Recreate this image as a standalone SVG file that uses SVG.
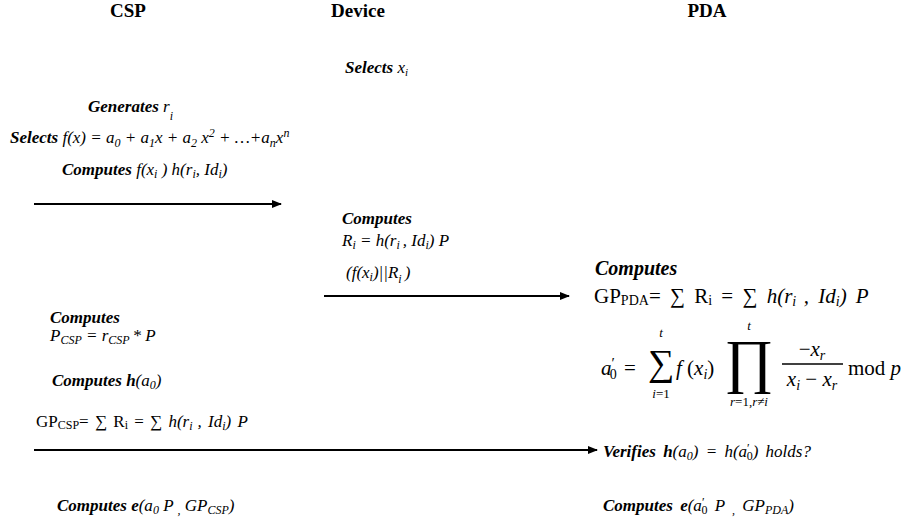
<svg xmlns="http://www.w3.org/2000/svg" width="906" height="521" viewBox="0 0 906 521">
  <style>
    text { font-family: "Liberation Serif", "Times New Roman", serif; fill: #000; }
    .hdr { font-size: 19px; font-weight: bold; text-anchor: middle; }
    .t { font-size: 17px; font-style: italic; }
    .kw { font-weight: bold; font-style: italic; }
    .up { font-style: normal; }
    .big { font-size: 20px; }
    .m { font-size: 21px; font-style: italic; }
    .ms { font-size: 13px; font-style: italic; }
    .arrow { stroke: #000; stroke-width: 2; fill: none; marker-end: url(#head); }
  </style>
  <defs>
    <marker id="head" viewBox="0 0 10 10" refX="9" refY="5" markerWidth="5" markerHeight="5" orient="auto" markerUnits="strokeWidth">
      <path d="M0,1 L10,5 L0,9 Z" fill="#000"/>
    </marker>
  </defs>
  <rect width="906" height="521" fill="#fff"/>

  <!-- column headers -->
  <g id="csp-header"><text class="hdr" x="128" y="17">CSP</text></g>
  <g id="device-header"><text class="hdr" x="358" y="17">Device</text></g>
  <g id="pda-header"><text class="hdr" x="707" y="17">PDA</text></g>

  <!-- device: choose share index -->
  <g id="device-select">
    <text class="t" x="345" y="73"><tspan class="kw">Selects </tspan> x<tspan font-size="11" dy="3">i</tspan></text>
  </g>

  <!-- CSP: setup -->
  <g id="csp-setup">
    <text class="t" x="88" y="112"><tspan class="kw">Generates </tspan> r<tspan font-size="12" dy="8">i</tspan></text>
    <text class="t" x="10" y="143"><tspan class="kw">Selects</tspan> f(x) = a<tspan font-size="12" dy="4">0</tspan><tspan dy="-4"> + a</tspan><tspan font-size="12" dy="4">1</tspan><tspan dy="-4">x + a</tspan><tspan font-size="12" dy="4">2</tspan><tspan dy="-4"> x</tspan><tspan font-size="12" dy="-6">2</tspan><tspan dy="6"> +  …+a</tspan><tspan font-size="12" dy="4">n</tspan><tspan dy="-4">x</tspan><tspan font-size="12" dy="-6">n</tspan></text>
    <text class="t" x="62" y="175"><tspan class="kw">Computes</tspan> f(x<tspan font-size="12" dy="3">i</tspan><tspan dy="-3"> ) h(r</tspan><tspan font-size="12" dy="3">i</tspan><tspan dy="-3">, Id</tspan><tspan font-size="12" dy="3">i</tspan><tspan dy="-3">)</tspan></text>
  </g>

  <!-- device: commitment -->
  <g id="device-compute">
    <text class="t" x="342" y="224"><tspan class="kw">Computes</tspan></text>
    <text class="t" x="342" y="246">R<tspan font-size="12" dy="3">i</tspan><tspan dy="-3"> = h(r</tspan><tspan font-size="12" dy="3">i </tspan><tspan dy="-3">, Id</tspan><tspan font-size="12" dy="3">i</tspan><tspan dy="-3">) P</tspan></text>
    <text class="t" x="346" y="278">(f(x<tspan font-size="12" dy="3">i</tspan><tspan dy="-3">)||R</tspan><tspan font-size="12" dy="5">i </tspan><tspan dy="-5">)</tspan></text>
  </g>

  <!-- PDA: aggregate and reconstruct -->
  <g id="pda-compute">
    <text class="t big" x="595" y="275"><tspan class="kw">Computes</tspan></text>
    <text class="up" font-size="21" x="594" y="303" word-spacing="4">GP<tspan font-size="14" dy="2">PDA</tspan><tspan dy="-2">= ∑ R</tspan><tspan font-size="14" dy="2">i</tspan><tspan dy="-2">  = ∑ </tspan><tspan font-style="italic">h(r</tspan><tspan font-style="italic" font-size="14" dy="3">i </tspan><tspan font-style="italic" dy="-3">, Id</tspan><tspan font-style="italic" font-size="14" dy="3">i</tspan><tspan font-style="italic" dy="-3">) P</tspan></text>
    <!-- a'_0 = sum f(x_i) prod (-x_r)/(x_i - x_r) mod p -->
    <text class="m" x="601" y="375">a<tspan font-style="normal" dy="-7" font-size="15">′</tspan><tspan font-style="normal" font-size="14" dx="-5" dy="11">0</tspan></text>
    <text class="up" font-size="21" x="624" y="375">=</text>
    <text class="up" font-size="37" x="661" y="375" text-anchor="middle" font-family="DejaVu Serif, serif">∑</text>
    <text class="ms" x="661" y="337" text-anchor="middle">t</text>
    <text class="ms" x="661" y="398" text-anchor="middle">i<tspan font-style="normal">=1</tspan></text>
    <text class="m" x="676" y="375">f<tspan font-style="normal"> (</tspan>x<tspan font-size="14" dy="4">i</tspan><tspan font-style="normal" dy="-4">)</tspan></text>
    <text class="up" font-size="60" x="749" y="381" text-anchor="middle" font-family="DejaVu Serif, serif">∏</text>
    <text class="ms" x="749" y="330" text-anchor="middle">t</text>
    <text class="ms" x="749" y="406" text-anchor="middle">r<tspan font-style="normal">=1,</tspan>r<tspan font-style="normal">≠</tspan>i</text>
    <text class="m" x="812" y="356" text-anchor="middle"><tspan font-style="normal">−</tspan>x<tspan font-size="14" dy="4">r</tspan></text>
    <line x1="782" y1="364" x2="843" y2="364" stroke="#000" stroke-width="1.5"/>
    <text class="m" x="812" y="386" text-anchor="middle">x<tspan font-size="14" dy="4">i</tspan><tspan font-style="normal" dy="-4"> − </tspan>x<tspan font-size="14" dy="4">r</tspan></text>
    <text class="m" x="848" y="375"><tspan font-style="normal">mod </tspan>p</text>
  </g>

  <!-- CSP: own key and check values -->
  <g id="csp-compute">
    <text class="t" font-size="16" x="50" y="323"><tspan class="kw">Computes</tspan></text>
    <text class="t" x="50" y="341">P<tspan font-size="12" dy="3">CSP</tspan><tspan dy="-3"> = r</tspan><tspan font-size="12" dy="3">CSP </tspan><tspan dy="-3">* P</tspan></text>
    <text class="t" x="52" y="386"><tspan class="kw">Computes h</tspan>(a<tspan font-size="12" dy="3">0</tspan><tspan dy="-3">)</tspan></text>
    <text class="up" font-size="17" x="36" y="427" word-spacing="2">GP<tspan font-size="12" dy="2">CSP</tspan><tspan dy="-2">= ∑ R</tspan><tspan font-size="12" dy="2">i</tspan><tspan dy="-2">  = ∑ </tspan><tspan font-style="italic">h(r</tspan><tspan font-style="italic" font-size="12" dy="3">i </tspan><tspan font-style="italic" dy="-3">, Id</tspan><tspan font-style="italic" font-size="12" dy="3">i</tspan><tspan font-style="italic" dy="-3">) P</tspan></text>
  </g>

  <!-- PDA: verification -->
  <g id="pda-verify">
    <text class="t" x="603" y="457" word-spacing="3"><tspan class="kw">Verifies  h</tspan>(a<tspan font-size="12" dy="3">0</tspan><tspan dy="-3">) = h(a</tspan><tspan font-style="normal" font-size="12" dy="-5">′</tspan><tspan font-style="normal" font-size="12" dx="-3" dy="8">0</tspan><tspan dy="-3">) holds?</tspan></text>
  </g>

  <!-- pairings -->
  <g id="csp-pairing">
    <text class="t" x="57" y="511"><tspan class="kw">Computes e</tspan>(a<tspan font-size="12" dy="3">0</tspan><tspan dy="-3"> P </tspan><tspan font-size="12" dy="3">,</tspan><tspan dy="-3"> GP</tspan><tspan font-size="12" dy="3">CSP</tspan><tspan dy="-3">)</tspan></text>
  </g>
  <g id="pda-pairing">
    <text class="t" x="603" y="511" word-spacing="3"><tspan class="kw">Computes e</tspan>(a<tspan font-style="normal" font-size="12" dy="-5">′</tspan><tspan font-style="normal" font-size="12" dx="-3" dy="8">0</tspan><tspan dy="-3"> P </tspan><tspan font-size="12" dy="3">,</tspan><tspan dy="-3"> GP</tspan><tspan font-size="12" dy="3">PDA</tspan><tspan dy="-3">)</tspan></text>
  </g>

  <!-- messages -->
  <g id="connectors">
    <line class="arrow" x1="34" y1="204" x2="281" y2="204"/>
    <line class="arrow" x1="324" y1="296" x2="569" y2="296"/>
    <line class="arrow" x1="34" y1="450" x2="597" y2="450"/>
  </g>
</svg>
